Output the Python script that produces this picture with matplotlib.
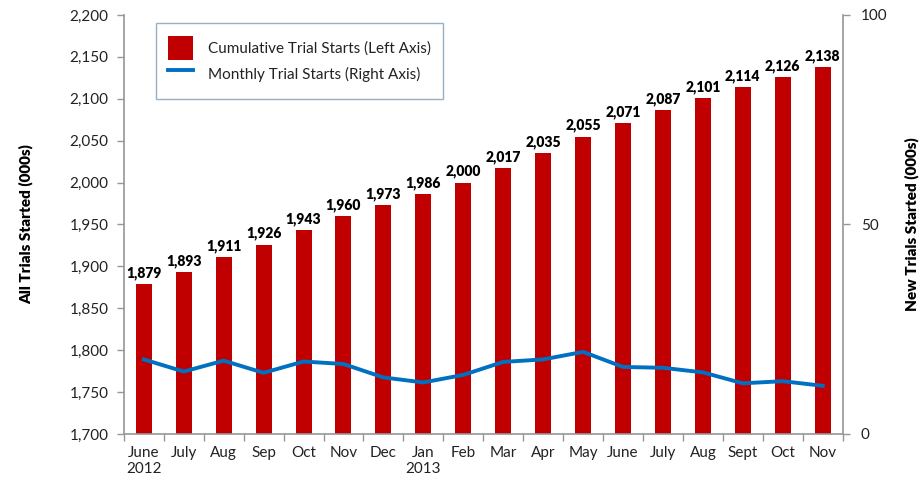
import matplotlib.pyplot as plt
import numpy as np
from matplotlib.ticker import FuncFormatter, FixedLocator

plt.rcParams['font.family'] = ['Lato', 'DejaVu Sans']

# data
months = ["June\n2012", "July", "Aug", "Sep", "Oct", "Nov", "Dec", "Jan\n2013", "Feb",
          "Mar", "Apr", "May", "June", "July", "Aug", "Sept", "Oct", "Nov"]
cumulative = [1879, 1893, 1911, 1926, 1943, 1960, 1973, 1986, 2000,
              2017, 2035, 2055, 2071, 2087, 2101, 2114, 2126, 2138]
monthly = [17.8, 14.9, 17.5, 14.6, 17.3, 16.7, 13.5, 12.3, 14.1,
           17.2, 17.8, 19.6, 16.0, 15.8, 14.7, 12.1, 12.6, 11.5]

bar_color = '#C00000'
line_color = '#0070C0'
axis_gray = '#969696'
text_color = '#222222'

fig = plt.figure(figsize=(9.24, 4.82), dpi=100)
ax = fig.add_axes([0.134, 0.0996, 0.778, 0.8693])
x = np.arange(len(months))

bars = ax.bar(x, cumulative, width=0.4, color=bar_color, zorder=2,
              label='Cumulative Trial Starts (Left Axis)')
ax.set_ylim(1700, 2200)
ax.set_xlim(-0.5, len(months) - 0.5)
ax.yaxis.set_major_locator(FixedLocator(np.arange(1700, 2201, 50)))
ax.yaxis.set_major_formatter(FuncFormatter(lambda v, p: f"{int(v):,}"))

for xi, v in zip(x, cumulative):
    ax.annotate(f"{v:,}", (xi, v), xytext=(0, 3), textcoords='offset points',
                ha='center', va='bottom', fontsize=10, fontweight='heavy', color='black')

# x ticks: labels at centers, tick marks at boundaries
ax.set_xticks(x)
ax.set_xticklabels(months, fontsize=11, color=text_color, linespacing=1.1)
ax.tick_params(axis='x', which='major', length=0, pad=9)
ax.set_xticks(np.arange(-0.5, len(months), 1), minor=True)
ax.tick_params(axis='x', which='minor', length=5, color=axis_gray, width=1)
ax.tick_params(axis='y', labelsize=11, labelcolor=text_color, length=5,
               color=axis_gray, width=1, pad=6)

for s in ['top', 'right']:
    ax.spines[s].set_visible(False)
for s in ['left', 'bottom']:
    ax.spines[s].set_color(axis_gray)
    ax.spines[s].set_linewidth(1.2)

ax.set_ylabel('All Trials Started (000s)', fontsize=11, fontweight='heavy',
              color='black', labelpad=26)

ax2 = ax.twinx()
line, = ax2.plot(x, monthly, color=line_color, linewidth=2.8, zorder=3,
                 label='Monthly Trial Starts (Right Axis)')
ax2.set_ylim(0, 100)
ax2.set_yticks([0, 50, 100])
ax2.tick_params(axis='y', labelsize=11, labelcolor=text_color, length=5,
                color=axis_gray, width=1, pad=8)
for s in ['top', 'left', 'bottom']:
    ax2.spines[s].set_visible(False)
ax2.spines['right'].set_color(axis_gray)
ax2.spines['right'].set_linewidth(1.2)
ax2.set_ylabel('New Trials Started (000s)', fontsize=11, fontweight='heavy',
               color='black', labelpad=12)

leg = ax.legend(handles=[bars, line], loc='upper left',
                bbox_to_anchor=(0.045, 0.98), fontsize=11, frameon=True,
                fancybox=False, edgecolor='#7F9DB9', borderpad=0.8,
                handlelength=1.6, handleheight=2.1, labelspacing=0.1,
                handletextpad=1.0, borderaxespad=0)
leg.get_frame().set_linewidth(1.0)
for t in leg.get_texts():
    t.set_color(text_color)

fig.savefig('out.png', dpi=100)
